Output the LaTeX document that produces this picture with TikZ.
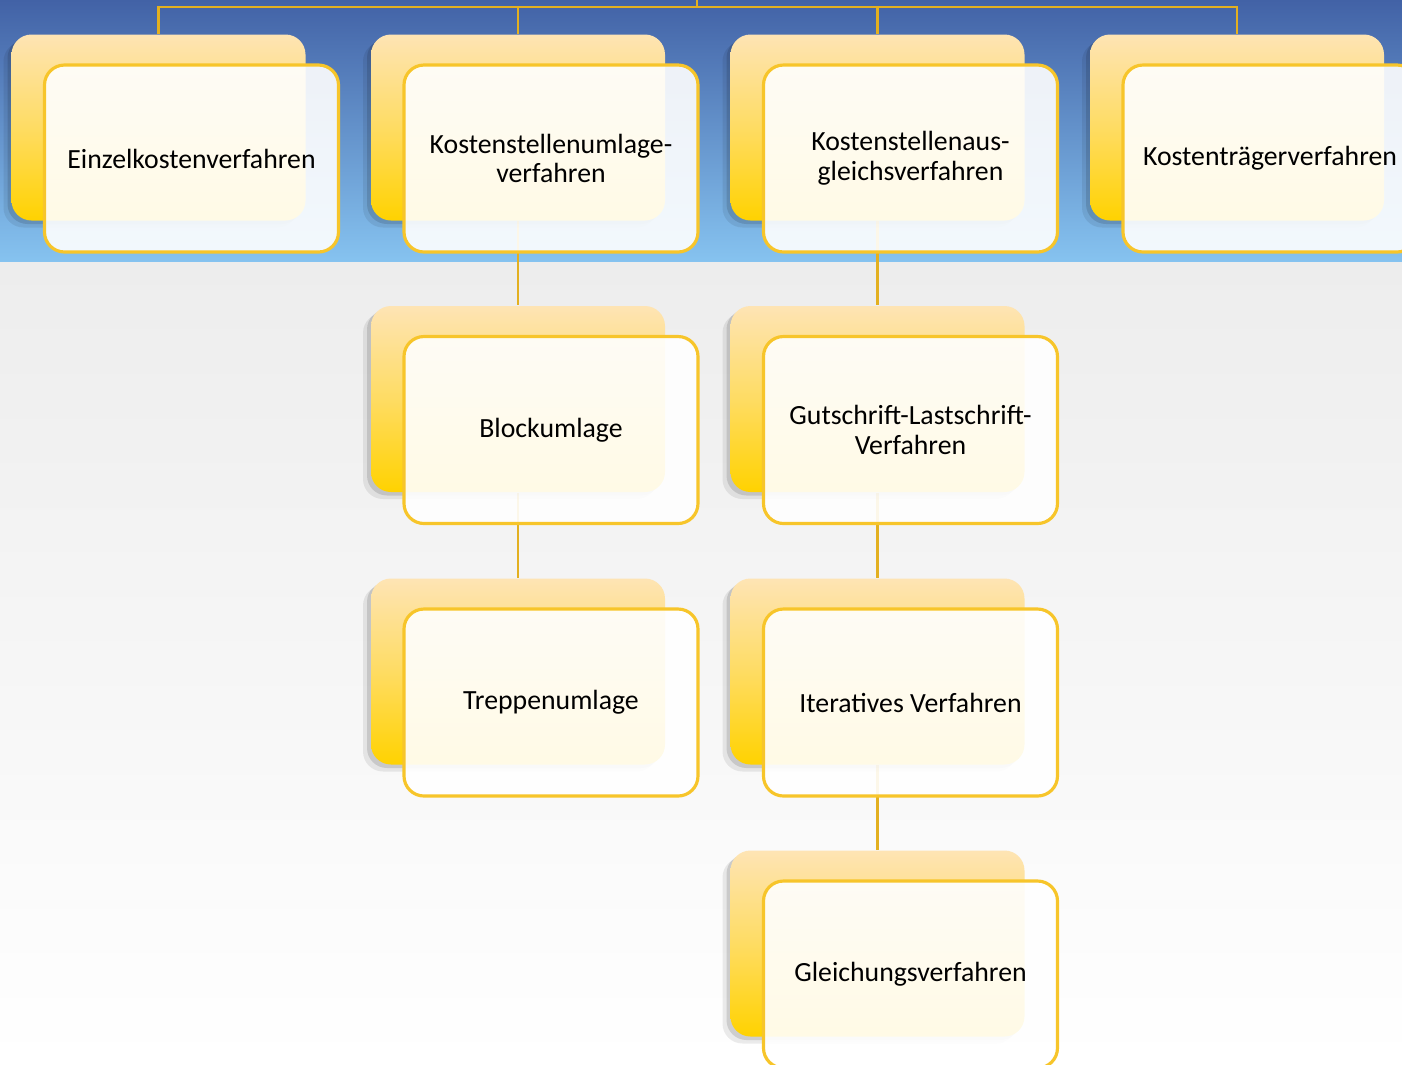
\documentclass[tikz,border=0pt]{standalone}
\usepackage{fontspec}
\setmainfont{Carlito}
\usetikzlibrary{shadows}
\definecolor{bandtop}{HTML}{4262A6}
\definecolor{bandbot}{HTML}{86C3F0}
\definecolor{mist}{HTML}{EDEDED}
\definecolor{peach}{HTML}{FEE4B4}
\definecolor{gold}{HTML}{FFD200}
\definecolor{rim}{HTML}{F7C52A}
\definecolor{wireclr}{HTML}{E3B020}
\pgfdeclarelayer{backdrop}
\pgfdeclarelayer{wires}
\pgfsetlayers{backdrop,wires,main}
\tikzset{
  backcard/.style={rounded corners=0.2cm, minimum width=2.94cm, minimum height=1.86cm,
    top color=peach, bottom color=gold, middle color=peach!55!gold,
    drop shadow={shadow xshift=-0.08cm, shadow yshift=-0.07cm, fill=black, opacity=0.08},
    drop shadow={shadow xshift=-0.04cm, shadow yshift=-0.035cm, fill=black, opacity=0.12}},
  frontcard/.style={rounded corners=0.2cm, draw=rim, line width=0.9pt, fill=white,
    fill opacity=0.9, text opacity=1, minimum width=2.94cm, minimum height=1.87cm,
    align=center, font=\fontsize{7.9}{8.5}\selectfont},
  wire/.style={draw=wireclr, line width=0.6pt}
}
\def\card(#1)(#2,#3)#4{%
  \node[backcard] (#1b) at (#2,#3) {};
  \node[frontcard] (#1) at ({#2+0.33},{#3-0.31}) {#4};}

\begin{document}
\begin{tikzpicture}
		%%%%% START %%%%%
		\clip (0,0) rectangle (14.02,-10.64);
		
		\begin{pgfonlayer}{backdrop}
		\fill[top color=bandtop, bottom color=bandbot] (0,0) rectangle (14.02,-2.62);
		\fill[top color=mist, bottom color=white] (0,-2.62) rectangle (14.02,-10.64);
		\end{pgfonlayer}
		
		\card(ekv)(1.585,-1.275){Einzelkostenverfahren}
		\card(ksu)(5.18,-1.275){Kostenstellenumlage-\\verfahren}
		\card(ksa)(8.775,-1.275){Kostenstellenaus-\\gleichsverfahren}
		\card(ktv)(12.37,-1.275){Kostenträgerverfahren}
		
		\card(blu)(5.18,-3.99){Blockumlage}
		\card(tru)(5.18,-6.715){Treppenumlage}
		
		\card(gll)(8.775,-3.99){Gutschrift-Lastschrift-\\Verfahren}
		\card(itv)(8.775,-6.715){Iteratives Verfahren}
		\card(glv)(8.775,-9.435){Gleichungsverfahren}
		
		\begin{pgfonlayer}{wires}
		\coordinate (root) at (6.97,0);
		\coordinate (bar) at (6.97,-0.07);
		\draw[wire] (root) -- (bar);
		\foreach \n in {ekvb,ksub,ksab,ktvb}
			\draw[wire] (bar) -| (\n.north);
		
		\draw[wire] (ksub.south) -- (blub.north);
		\draw[wire] (blub.south) -- (trub.north);
		\draw[wire] (ksab.south) -- (gllb.north);
		\draw[wire] (gllb.south) -- (itvb.north);
		\draw[wire] (itvb.south) -- (glvb.north);
		\end{pgfonlayer}
		
		%%%%% END %%%%%
\end{tikzpicture}
\end{document}
